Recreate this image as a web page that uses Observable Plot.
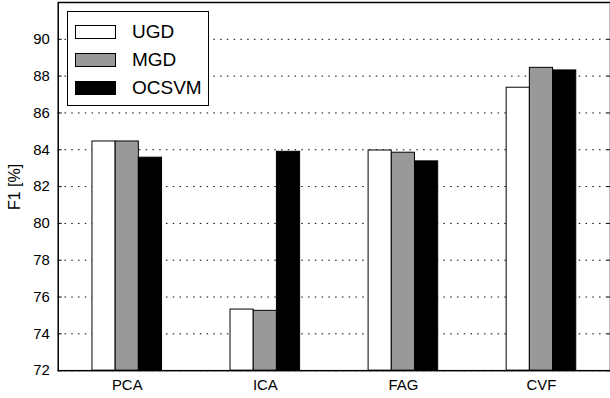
<!DOCTYPE html>
<html>
<head>
<meta charset="utf-8">
<script src="https://cdn.jsdelivr.net/npm/d3@7"></script>
<script src="https://cdn.jsdelivr.net/npm/@observablehq/plot@0.6"></script>
<style>
  html, body { margin: 0; padding: 0; background: white; overflow: hidden; }
  #wrap { position: relative; width: 610px; height: 398px; overflow: hidden; font-family: "Liberation Sans", Arial, Helvetica, sans-serif; }
  #legend { position: absolute; left: 67px; top: 11px; width: 140px; height: 93px; border: 1.5px solid black; background: white; }
  .item { position: absolute; left: 0; height: 20px; }
  .sw { position: absolute; left: 7px; width: 39px; height: 12px; border: 1px solid black; }
  .lab { position: absolute; left: 64px; font-size: 19px; line-height: 20px; color: black; white-space: nowrap; }
  #ylabel { position: absolute; left: 15px; top: 187px; transform: translate(-50%, -50%) rotate(-90deg); font-size: 16px; line-height: 16px; white-space: nowrap; color: black; }
</style>
</head>
<body>
<div id="wrap"></div>
<script>
const categories = ["PCA", "ICA", "FAG", "CVF"];
const series = ["UGD", "MGD", "OCSVM"];
const ugd = [84.45, 75.32, 83.96, 87.37];
const mgd = [84.45, 75.25, 83.84, 88.45];
const ocsvm = [83.57, 83.89, 83.37, 88.31];
const yTicks = [72, 74, 76, 78, 80, 82, 84, 86, 88, 90];
const yDomain = [72, 92];
const yLabel = "F1 [%]";
const colors = ["#ffffff", "#999999", "#000000"];

const values = [ugd, mgd, ocsvm];
const bw = 0.168;
const data = [];
categories.forEach((c, ci) => {
  series.forEach((s, si) => {
    const x1 = ci + (si - 1.5) * bw;
    data.push({cat: c, series: s, x1, x2: x1 + bw, value: values[si][ci]});
  });
});

const chart = Plot.plot({
  width: 613,
  height: 398,
  marginLeft: 58,
  marginRight: 0,
  marginTop: 2,
  marginBottom: 26,
  style: {fontFamily: "'Liberation Sans', Arial, Helvetica, sans-serif", fontSize: "15px", color: "black", background: "white", overflow: "visible"},
  x: {domain: [-0.5, 3.5], axis: null},
  y: {domain: yDomain, axis: null},
  color: {domain: series, range: colors},
  marks: [
    Plot.gridY(yTicks, {stroke: "black", strokeOpacity: 1, strokeWidth: 1, strokeDasharray: "1.5,5.3"}),
    Plot.rectY(data, {x1: "x1", x2: "x2", y1: () => yDomain[0], y2: "value", fill: "series", stroke: "black", strokeWidth: 1}),
    Plot.axisY(yTicks, {anchor: "left", tickSize: 0, tickPadding: 8.5, fontSize: 15, label: null}),
    Plot.axisY(yTicks, {anchor: "left", tickSize: 4, dx: 4, tickFormat: () => "", label: null}),
    Plot.axisY(yTicks, {anchor: "right", tickSize: 4, dx: -4, tickFormat: () => "", label: null}),
    Plot.axisX([0, 1, 2, 3], {anchor: "bottom", tickSize: 0, tickPadding: 9, fontSize: 15, tickFormat: i => categories[i], label: null}),
    Plot.frame({stroke: "black", strokeWidth: 1.5})
  ]
});

const wrap = document.getElementById("wrap");
wrap.appendChild(chart);

const yl = document.createElement("div");
yl.id = "ylabel";
yl.textContent = yLabel;
wrap.appendChild(yl);

const legend = document.createElement("div");
legend.id = "legend";
const tops = [10, 38, 66];
series.forEach((s, i) => {
  const item = document.createElement("div");
  item.className = "item";
  item.style.top = tops[i] + "px";
  const sw = document.createElement("div");
  sw.className = "sw";
  sw.style.background = colors[i];
  sw.style.top = "3px";
  const lab = document.createElement("div");
  lab.className = "lab";
  lab.textContent = s;
  item.appendChild(sw);
  item.appendChild(lab);
  legend.appendChild(item);
});
wrap.appendChild(legend);
</script>
</body>
</html>
